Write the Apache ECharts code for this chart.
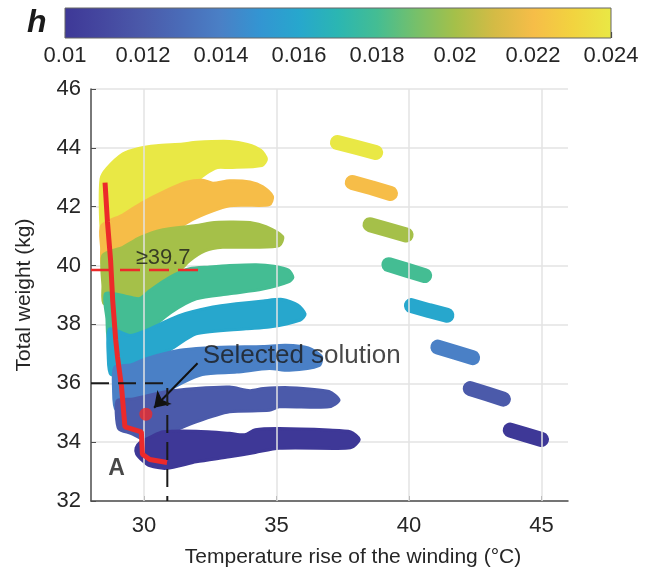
<!DOCTYPE html>
<html>
<head>
<meta charset="utf-8">
<script src="https://cdn.jsdelivr.net/npm/echarts@6/dist/echarts.min.js"></script>
<style>
  html, body { margin: 0; padding: 0; background: #fff; }
  #chart { width: 667px; height: 579px; }
</style>
</head>
<body>
<div id="chart"></div>
<script>
// colour map of h (one stop every 0.001)
const hStops = [0.010, 0.011, 0.012, 0.013, 0.014, 0.015, 0.016, 0.017, 0.018, 0.019, 0.020, 0.021, 0.022, 0.023, 0.024];
const hColors = ['#3e3897', '#4548a0', '#4b5aaa', '#4a6cb8', '#4a80c6', '#3395d2', '#27a7cd', '#2bb6b2',
  '#44bd93', '#76c06a', '#a5c049', '#d4bb45', '#f6bd48', '#f2d33f', '#e9e845'];
const hTicks = [0.010, 0.012, 0.014, 0.016, 0.018, 0.020, 0.022, 0.024];

const xTicks = [30, 35, 40, 45];

// h value of every band, drawn from top (0.024) to bottom (0.010)
const hBands = [0.024, 0.022, 0.020, 0.018, 0.016, 0.014, 0.012, 0.010];

// outline of the left cloud of each band [temperature rise, weight]
const band024 = [[28.38, 42.95], [28.6, 43.3], [29.21, 43.8], [29.8, 43.98], [30.47, 44.07], [31.47, 44.13], [31.97, 44.19], [33.23, 44.22], [33.9, 44.12], [34.4, 43.92], [34.62, 43.62], [34.45, 43.4], [33.23, 43.33], [32.77, 43.33], [32.3, 43.1], [31.6, 42.6], [30.7, 42.2], [29.9, 41.8], [29.2, 41.4], [28.45, 41.1], [28.36, 41.6]];
const band022 = [[28.4, 41.35], [29.2, 41.72], [29.9, 42.12], [30.72, 42.5], [31.6, 42.83], [32.22, 42.9], [32.6, 42.8], [33.23, 42.88], [34.0, 42.84], [34.48, 42.68], [34.85, 42.35], [34.73, 42.07], [33.8, 42.05], [33.23, 42.03], [32.6, 41.86], [31.8, 41.55], [30.8, 41.0], [29.9, 40.5], [29.2, 40.2], [28.45, 40.0], [28.4, 40.6]];
const band020 = [[28.45, 40.35], [29.2, 40.62], [29.84, 40.95], [30.72, 41.22], [31.97, 41.36], [32.5, 41.45], [33.23, 41.48], [34.0, 41.46], [34.6, 41.32], [35.23, 40.98], [35.1, 40.68], [34.2, 40.62], [32.97, 40.62], [32.3, 40.5], [31.7, 40.15], [31.0, 39.5], [30.2, 39.0], [29.5, 38.7], [28.5, 38.7], [28.45, 39.3]];
const band018 = [[28.55, 39.05], [29.5, 38.92], [29.84, 38.88], [30.22, 39.15], [30.97, 39.6], [31.72, 39.89], [32.47, 39.95], [33.23, 40.0], [34.23, 40.03], [34.9, 39.98], [35.45, 39.85], [35.62, 39.6], [35.45, 39.45], [34.48, 39.2], [33.23, 39.04], [31.97, 38.87], [31.0, 38.4], [30.1, 37.75], [29.4, 37.4], [28.7, 37.4], [28.6, 38.2]];
const band016 = [[28.7, 37.85], [29.47, 37.62], [30.09, 37.8], [30.7, 38.05], [31.35, 38.31], [32.6, 38.59], [33.47, 38.7], [34.5, 38.8], [35.23, 38.85], [35.8, 38.66], [36.08, 38.35], [35.9, 38.15], [34.73, 37.91], [33.85, 37.85], [31.97, 37.68], [31.0, 37.15], [30.1, 36.8], [29.4, 36.3], [28.75, 36.3], [28.65, 36.9]];
const band014 = [[28.9, 36.55], [29.5, 36.62], [30.09, 36.84], [31.35, 37.12], [32.3, 37.2], [33.23, 37.23], [34.5, 37.25], [35.35, 37.29], [36.2, 37.2], [36.7, 36.9], [36.6, 36.6], [35.48, 36.44], [34.73, 36.5], [33.5, 36.38], [32.2, 36.3], [31.4, 36.0], [30.6, 35.6], [29.7, 35.1], [28.95, 35.1], [28.85, 35.8]];
const band012 = [[29.0, 35.42], [29.6, 35.47], [30.72, 35.7], [31.97, 35.82], [33.23, 35.87], [34.0, 35.75], [34.5, 35.82], [35.5, 35.85], [36.98, 35.72], [37.36, 35.42], [36.98, 35.2], [35.1, 35.2], [34.73, 35.08], [33.23, 35.03], [31.97, 34.69], [30.72, 34.24], [30.09, 34.07], [29.5, 34.3], [29.05, 34.45], [28.95, 35.0]];
const band010 = [[29.7, 33.8], [29.84, 33.98], [30.3, 34.2], [30.72, 34.35], [31.97, 34.37], [33.23, 34.3], [33.8, 34.25], [34.2, 34.42], [35.1, 34.46], [36.98, 34.41], [37.8, 34.35], [38.12, 34.1], [37.9, 33.85], [37.61, 33.79], [35.1, 33.79], [34.2, 33.65], [33.23, 33.5], [31.97, 33.33], [30.85, 33.11], [30.2, 33.2], [29.97, 33.35], [29.72, 33.6]];

// isolated right-hand group of each band
const tail024 = [[37.3, 44.18], [38.0, 44.02], [38.74, 43.84]];
const tail022 = [[37.86, 42.82], [38.6, 42.64], [39.3, 42.45]];
const tail020 = [[38.53, 41.39], [39.2, 41.22], [39.89, 41.04]];
const tail018 = [[39.24, 40.03], [39.9, 39.85], [40.59, 39.66]];
const tail016 = [[40.09, 38.64], [40.75, 38.47], [41.43, 38.31]];
const tail014 = [[41.09, 37.23], [41.75, 37.05], [42.4, 36.87]];
const tail012 = [[42.31, 35.82], [42.95, 35.64], [43.56, 35.46]];
const tail010 = [[43.82, 34.41], [44.4, 34.25], [45.0, 34.09]];

const bandClouds = [band024, band022, band020, band018, band016, band014, band012, band010];
const bandTails = [tail024, tail022, tail020, tail018, tail016, tail014, tail012, tail010];

// red front (lightest design for each temperature)
const front = [[28.53, 42.82], [28.62, 41.5], [28.74, 40.17], [28.82, 38.8], [28.93, 37.5], [29.0, 36.9], [29.15, 35.9], [29.28, 34.52], [29.9, 34.35], [29.94, 33.59], [30.22, 33.41], [30.87, 33.31]];
const weightLimit = 39.85;
const selected = [30.07, 34.95];
const selectedBox = [30.88, 36];

const colorOf = h => hColors[Math.round((h - hStops[0]) / 0.001)];

const chart = echarts.init(document.getElementById('chart'));

const textColor = '#262626';
const font = 'Liberation Sans, Arial, sans-serif';

const bandSeries = bandClouds.map((cloud, i) => {
  const color = colorOf(hBands[i]);
  const tail = bandTails[i];
  return {
    type: 'custom',
    name: 'h=' + hBands[i],
    z: 3,
    silent: true,
    data: [cloud[0]],
    renderItem: (params, api) => ({
      type: 'group',
      children: [
        {
          type: 'polygon',
          shape: { points: cloud.map(p => api.coord(p)), smooth: 0.25 },
          style: { fill: color, stroke: color, lineWidth: 3, lineJoin: 'round' },
        },
        {
          type: 'polyline',
          shape: { points: tail.map(p => api.coord(p)) },
          style: { fill: null, stroke: color, lineWidth: 15, lineCap: 'round', lineJoin: 'round' },
        },
      ],
    }),
  };
});

const cbStops = hColors.map((c, i) => ({ offset: i / (hColors.length - 1), color: c }));

chart.setOption({
  animation: false,
  title: {
    text: 'h',
    left: 22,
    top: 2,
    textStyle: { fontFamily: font, fontSize: 32, fontWeight: 'bold', fontStyle: 'italic', color: '#1a1a1a' },
  },
  grid: [
    { left: 91, right: 99, top: 89, bottom: 78 },
    { left: 65, right: 56, top: 8, height: 30 },
  ],
  xAxis: [
    {
      type: 'value',
      min: 28,
      max: 46,
      name: 'Temperature rise of the winding (°C)',
      nameLocation: 'middle',
      nameGap: 46,
      nameTextStyle: { fontFamily: font, fontSize: 21, color: textColor, padding: [0, 0, 0, 47] },
      axisLine: { lineStyle: { color: '#4d4d4d', width: 1.5 } },
      axisTick: { inside: true, length: 5, customValues: xTicks, lineStyle: { color: '#4d4d4d' } },
      axisLabel: { customValues: xTicks, margin: 14, fontFamily: font, fontSize: 22, color: textColor },
      splitLine: { show: false },
    },
    {
      type: 'value',
      gridIndex: 1,
      min: hTicks[0],
      max: hTicks[hTicks.length - 1],
      interval: 0.002,
      axisLine: { show: false },
      axisTick: { inside: true, length: 6, lineStyle: { color: '#333', width: 1.2 } },
      axisLabel: { margin: 7, fontFamily: font, fontSize: 22, color: textColor },
      splitLine: { show: false },
    },
  ],
  yAxis: [
    {
      type: 'value',
      min: 32,
      max: 46,
      interval: 2,
      name: 'Total weight (kg)',
      nameLocation: 'middle',
      nameGap: 56,
      nameTextStyle: { fontFamily: font, fontSize: 21, color: textColor },
      axisLine: { show: true, lineStyle: { color: '#4d4d4d', width: 1.5 } },
      axisTick: { show: true, inside: true, length: 5, lineStyle: { color: '#4d4d4d' } },
      axisLabel: { margin: 10, fontFamily: font, fontSize: 22, color: textColor },
      splitLine: { lineStyle: { color: '#e3e3e3', width: 1.5 } },
    },
    { type: 'value', gridIndex: 1, min: 0, max: 1, show: false },
  ],
  series: [
    // vertical grid lines at the labelled temperatures
    {
      type: 'line',
      data: [],
      z: 1,
      markLine: {
        silent: true,
        symbol: 'none',
        label: { show: false },
        lineStyle: { color: '#e3e3e3', width: 1.5, type: 'solid' },
        data: xTicks.map(v => ({ xAxis: v })),
      },
    },
    ...bandSeries,
    {
      type: 'line',
      name: 'front',
      z: 5,
      data: front,
      symbol: 'none',
      lineStyle: { color: '#ec2a2a', width: 5 },
    },
    {
      type: 'line',
      name: 'limit',
      z: 5,
      data: [[28, weightLimit], [32.3, weightLimit]],
      symbol: 'none',
      lineStyle: { color: '#ec2a2a', width: 2.5, type: [20, 9] },
    },
    {
      type: 'line',
      name: 'box',
      z: 5,
      data: [[28, selectedBox[1]], [selectedBox[0], selectedBox[1]], [selectedBox[0], 32]],
      symbol: 'none',
      lineStyle: { color: '#1a1a1a', width: 2, type: [18, 9] },
    },
    {
      type: 'scatter',
      name: 'selected',
      z: 6,
      data: [selected],
      symbolSize: 13,
      itemStyle: { color: '#ec2a2a' },
      markLine: {
        silent: true,
        symbol: ['none', 'arrow'],
        symbolSize: 15,
        label: { show: false },
        lineStyle: { color: '#111', width: 2, type: 'solid' },
        data: [[{ coord: [32.02, 36.68] }, { coord: [30.38, 35.17] }]],
      },
    },
    {
      type: 'scatter',
      name: 'notes',
      z: 7,
      symbolSize: 1,
      itemStyle: { color: 'rgba(0,0,0,0)' },
      label: { show: true, position: 'inside', fontFamily: font, color: '#1a1a1a' },
      data: [
        { value: [30.72, 40.27], label: { formatter: '≥39.7', fontSize: 22 } },
        { value: [35.95, 36.95], label: { formatter: 'Selected solution', fontSize: 26 } },
        { value: [28.96, 33.1], label: { formatter: 'A', fontSize: 23, fontWeight: 'bold' } },
      ],
    },
    // colour bar
    {
      type: 'custom',
      xAxisIndex: 1,
      yAxisIndex: 1,
      silent: true,
      data: [[hTicks[0], 0]],
      renderItem: (params, api) => {
        const a = api.coord([hTicks[0], 1]);
        const b = api.coord([hTicks[hTicks.length - 1], 0]);
        return {
          type: 'rect',
          shape: { x: a[0], y: a[1], width: b[0] - a[0], height: b[1] - a[1] },
          style: {
            fill: new echarts.graphic.LinearGradient(0, 0, 1, 0, cbStops),
            stroke: '#666',
            lineWidth: 1,
          },
        };
      },
    },
  ],
});
</script>
</body>
</html>
